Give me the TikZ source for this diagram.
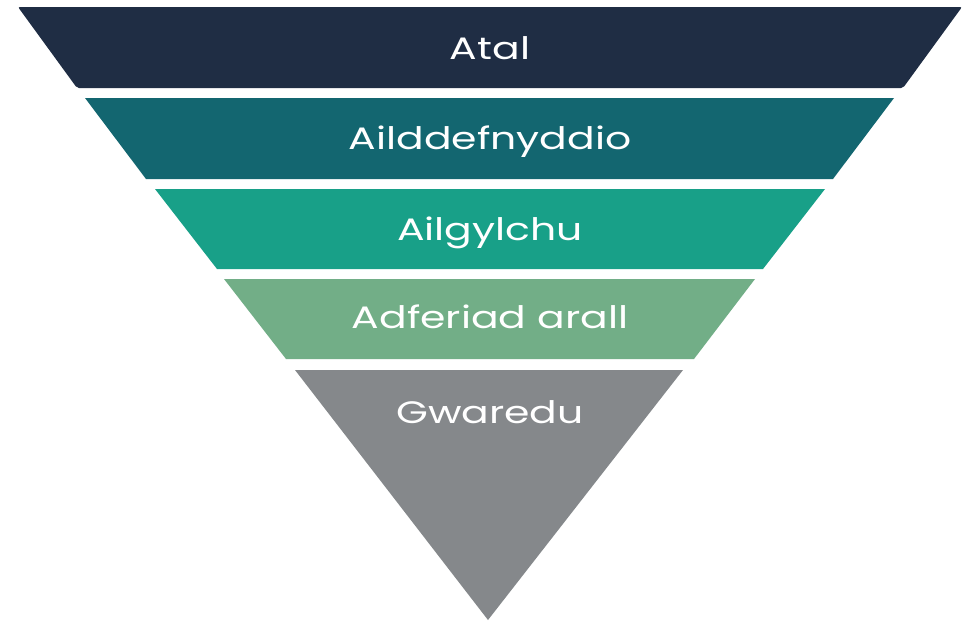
\documentclass[tikz,border=0pt]{standalone}
\usepackage{graphicx}
\usepackage{fontspec}
\setmainfont{Poppins}
\definecolor{cA}{HTML}{1F2D44}
\definecolor{cB}{HTML}{136670}
\definecolor{cC}{HTML}{18A088}
\definecolor{cD}{HTML}{72AE87}
\definecolor{cE}{HTML}{85888B}
\newcommand{\widetext}[1]{\scalebox{1.32}[1]{#1}}
\begin{document}
\begin{tikzpicture}[x=1pt,y=-1pt,
  lbl/.style={text=white,font=\fontsize{31}{37}\selectfont,inner sep=0pt,anchor=base}]
\useasboundingbox[fill=white] (0,0) rectangle (964,622);
\fill[cA,rounded corners=2pt] (18,7) -- (962,7) -- (903,88) -- (77,88) -- cycle;
\fill[cB] (85,98) -- (894,98) -- (833,179) -- (146,179) -- cycle;
\fill[cC] (155,189) -- (825,189) -- (763,269) -- (217,269) -- cycle;
\fill[cD] (224,279) -- (755,279) -- (694,359) -- (286,359) -- cycle;
\fill[cE] (295,370) -- (683,370) -- (488,620) -- cycle;
\node[lbl] (atal) at (490,59) {\widetext{Atal}};
\node[lbl] (ail) at (490,149) {\widetext{Ailddefnyddio}};
\node[lbl] (gyl) at (490,240) {\widetext{Ailgylchu}};
\node[lbl] (adf) at (490,328) {\widetext{Adferiad arall}};
\node[lbl] (gwa) at (490,423) {\widetext{Gwaredu}};
\end{tikzpicture}
\end{document}
